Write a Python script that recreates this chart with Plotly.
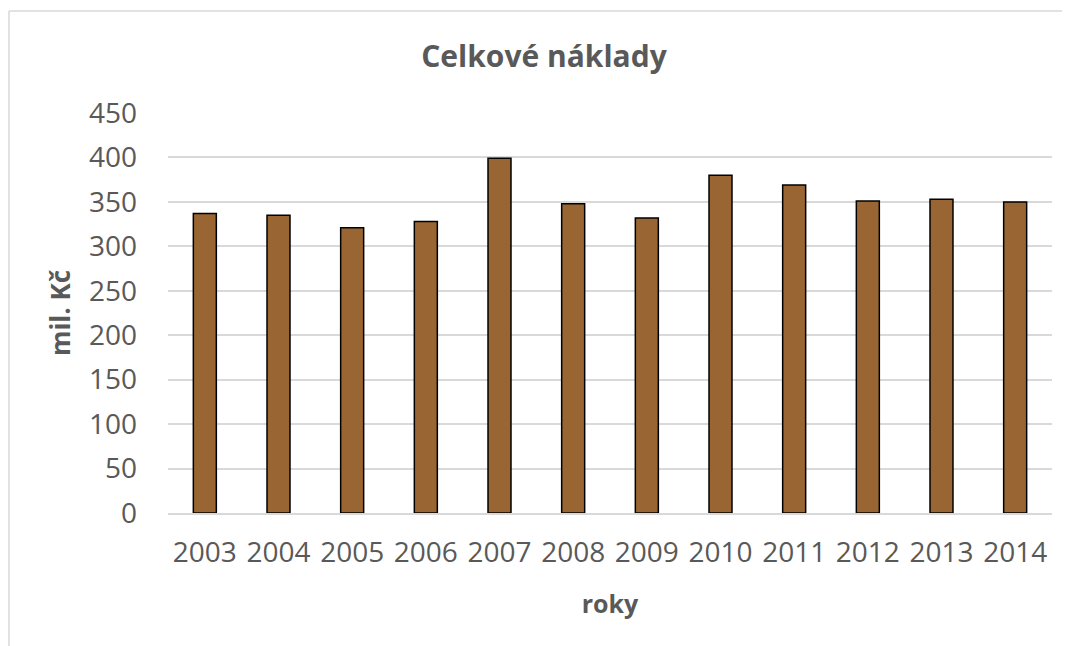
import plotly.graph_objects as go

years = ["2003", "2004", "2005", "2006", "2007", "2008", "2009", "2010", "2011", "2012", "2013", "2014"]
costs = [337, 335, 321, 328, 399, 348, 332, 380, 369, 351, 353, 350]
y_ticks = [0, 50, 100, 150, 200, 250, 300, 350, 400, 450]

TEXT = "#595959"
GRID = "#d9d9d9"
FONT = "Open Sans"

fig = go.Figure(go.Bar(
    x=years, y=costs,
    marker=dict(color="#996633", line=dict(color="#000000", width=1.5)),
))

OFF = 8  # page body offset
L, R, T, B = 168 - OFF, 26, 113 - OFF, 141
W, H = 1070, 646
pw, ph = W - L - R, H - T - B

def px(x):
    return (x - OFF - L) / pw

def py(y):
    return (H - B - (y - OFF)) / ph

fig.update_layout(
    width=W, height=H,
    margin=dict(l=L, r=R, t=T, b=B),
    paper_bgcolor="white", plot_bgcolor="white",
    bargap=0.688,
    showlegend=False,
    font=dict(family=FONT, color=TEXT),
    title=dict(text="<b>Celkové náklady</b>", x=(544 - OFF) / W, xref="container", xanchor="center",
               y=1 - (56 - OFF) / H, yanchor="middle",
               font=dict(family=FONT, size=30, color=TEXT)),
    xaxis=dict(
        type="category",
        showgrid=False, showline=True, linecolor=GRID, linewidth=1.5,
        ticks="", ticklabelstandoff=14,
        tickfont=dict(family=FONT, size=28, color=TEXT),
        title=dict(text="<b>roky</b>", standoff=26,
                   font=dict(family=FONT, size=25, color=TEXT)),
    ),
    yaxis=dict(
        range=[0, 450], tickvals=y_ticks, ticktext=[str(v) for v in y_ticks],
        showgrid=True, gridcolor=GRID, gridwidth=1.5,
        zeroline=False, showline=False,
        ticks="", ticklabelstandoff=30,
        tickfont=dict(family=FONT, size=28, color=TEXT),
        title=dict(text="<b>mil. Kč</b>", standoff=10,
                   font=dict(family=FONT, size=26, color=TEXT)),
    ),
    shapes=[
        dict(type="line", xref="paper", yref="paper",
             x0=px(9), x1=px(9), y0=py(660), y1=py(11),
             line=dict(color=GRID, width=1.5)),
        dict(type="line", xref="paper", yref="paper",
             x0=px(9), x1=px(1080), y0=py(11), y1=py(11),
             line=dict(color=GRID, width=1.5)),
    ],
)

fig.write_html("out.html")
